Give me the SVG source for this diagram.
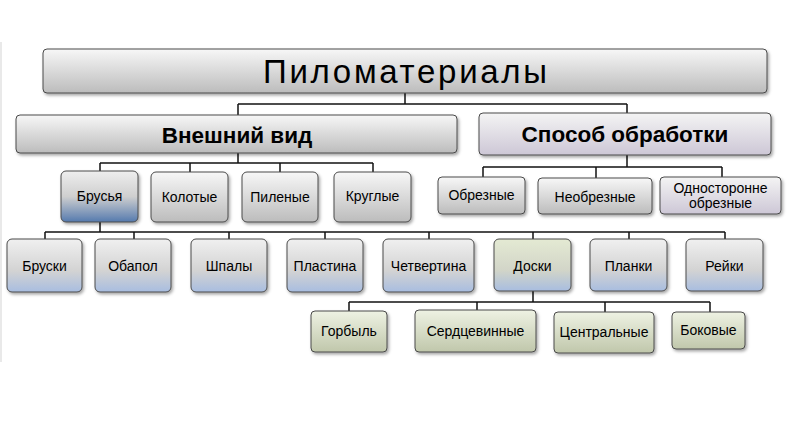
<svg xmlns="http://www.w3.org/2000/svg" width="788" height="424" viewBox="0 0 788 424">
<defs>
<linearGradient id="gGray" x1="0" y1="0" x2="0" y2="1"><stop offset="0" stop-color="#f7f7f7"/><stop offset="1" stop-color="#bcbcbc"/></linearGradient>
<linearGradient id="gLav" x1="0" y1="0" x2="0" y2="1"><stop offset="0" stop-color="#f4f4f4"/><stop offset="1" stop-color="#cdc7d6"/></linearGradient>
<linearGradient id="gBrus" x1="0" y1="0" x2="0" y2="1"><stop offset="0" stop-color="#eeeeee"/><stop offset="0.5" stop-color="#cfcfcf"/><stop offset="1" stop-color="#557aae"/></linearGradient>
<linearGradient id="gBlue" x1="0" y1="0" x2="0" y2="1"><stop offset="0" stop-color="#f0f0f0"/><stop offset="0.6" stop-color="#d3d3d3"/><stop offset="1" stop-color="#a8bde0"/></linearGradient>
<linearGradient id="gDoski" x1="0" y1="0" x2="0" y2="1"><stop offset="0" stop-color="#e4ead3"/><stop offset="0.6" stop-color="#d2d5c8"/><stop offset="1" stop-color="#a8bde0"/></linearGradient>
<linearGradient id="gGreen" x1="0" y1="0" x2="0" y2="1"><stop offset="0" stop-color="#eef2e3"/><stop offset="1" stop-color="#c0c7ab"/></linearGradient>
<filter id="sh" x="-10%" y="-10%" width="125%" height="140%"><feDropShadow dx="1.5" dy="2" stdDeviation="1.5" flood-color="#000" flood-opacity="0.35"/></filter>
<style>
rect.b{stroke:#4a4a4a;stroke-width:1;filter:url(#sh)}
text{font-family:"Liberation Sans",Arial,sans-serif;fill:#000;text-anchor:middle;dominant-baseline:central}
.t2{font-size:14px}
.t1{font-size:22.5px;font-weight:bold}
.c line{stroke:#111;stroke-width:1.5}
</style>
</defs>
<rect width="788" height="424" fill="#ffffff"/>
<line x1="1" y1="42" x2="1" y2="362" stroke="#e2e2e2" stroke-width="1.5"/>
<g class="c" id="connectors">
<line x1="405" y1="93" x2="405" y2="104"/>
<line x1="238" y1="104" x2="627" y2="104"/>
<line x1="238" y1="104" x2="238" y2="115"/>
<line x1="627" y1="104" x2="627" y2="113"/>
<line x1="238" y1="153" x2="238" y2="163"/>
<line x1="100" y1="163" x2="373" y2="163"/>
<line x1="100" y1="163" x2="100" y2="171"/>
<line x1="190" y1="163" x2="190" y2="172"/>
<line x1="280" y1="163" x2="280" y2="172"/>
<line x1="373" y1="163" x2="373" y2="172"/>
<line x1="627" y1="155" x2="627" y2="167"/>
<line x1="483" y1="167" x2="722" y2="167"/>
<line x1="483" y1="167" x2="483" y2="177"/>
<line x1="596" y1="167" x2="596" y2="178"/>
<line x1="722" y1="167" x2="722" y2="177"/>
<line x1="100" y1="222" x2="100" y2="232"/>
<line x1="45" y1="232" x2="725" y2="232"/>
<line x1="45" y1="232" x2="45" y2="239"/>
<line x1="134" y1="232" x2="134" y2="239"/>
<line x1="229" y1="232" x2="229" y2="239"/>
<line x1="325" y1="232" x2="325" y2="239"/>
<line x1="429" y1="232" x2="429" y2="239"/>
<line x1="533" y1="232" x2="533" y2="239"/>
<line x1="629" y1="232" x2="629" y2="239"/>
<line x1="725" y1="232" x2="725" y2="239"/>
<line x1="533" y1="291" x2="533" y2="302"/>
<line x1="349" y1="302" x2="710" y2="302"/>
<line x1="349" y1="302" x2="349" y2="311"/>
<line x1="477" y1="302" x2="477" y2="310"/>
<line x1="605" y1="302" x2="605" y2="312"/>
<line x1="710" y1="302" x2="710" y2="312"/>
</g>
<g id="title"><rect class="b" x="43" y="49" width="724" height="44" rx="4" fill="url(#gGray)"/><text x="405" y="71" font-size="33" textLength="284" lengthAdjust="spacing">Пиломатериалы</text></g>
<g id="vneshniy"><rect class="b" x="16" y="115" width="441" height="38" rx="4" fill="url(#gGray)"/><text class="t1" x="237" y="135">Внешний вид</text></g>
<g id="sposob"><rect class="b" x="479" y="113" width="292" height="42" rx="4" fill="url(#gLav)"/><text class="t1" x="625" y="134">Способ обработки</text></g>
<g id="brusya"><rect class="b" x="61" y="171" width="77" height="51" rx="5" fill="url(#gBrus)"/><text class="t2" x="99.5" y="196">Брусья</text></g>
<g id="kolotye"><rect class="b" x="151" y="172" width="77" height="50" rx="5" fill="url(#gGray)"/><text class="t2" x="189.5" y="197">Колотые</text></g>
<g id="pilenye"><rect class="b" x="242" y="172" width="76" height="50" rx="5" fill="url(#gGray)"/><text class="t2" x="280" y="197">Пиленые</text></g>
<g id="kruglye"><rect class="b" x="334" y="172" width="77" height="50" rx="5" fill="url(#gGray)"/><text class="t2" x="372.5" y="196">Круглые</text></g>
<g id="obreznye"><rect class="b" x="438" y="177" width="87" height="37" rx="4" fill="url(#gGray)"/><text class="t2" x="481.5" y="195">Обрезные</text></g>
<g id="neobreznye"><rect class="b" x="538" y="178" width="114" height="36" rx="4" fill="url(#gGray)"/><text class="t2" x="595" y="196.5">Необрезные</text></g>
<g id="odnostoronne"><rect class="b" x="660" y="177" width="121" height="37" rx="4" fill="url(#gLav)"/><text class="t2" x="720.5" y="188">Односторонне</text><text class="t2" x="720.5" y="203">обрезные</text></g>
<g id="bruski"><rect class="b" x="7" y="239" width="75" height="53" rx="5" fill="url(#gBlue)"/><text class="t2" x="44.5" y="266">Бруски</text></g>
<g id="obapol"><rect class="b" x="95" y="239" width="76" height="53" rx="5" fill="url(#gBlue)"/><text class="t2" x="133" y="266">Обапол</text></g>
<g id="shpaly"><rect class="b" x="191" y="239" width="76" height="53" rx="5" fill="url(#gBlue)"/><text class="t2" x="229" y="266">Шпалы</text></g>
<g id="plastina"><rect class="b" x="287" y="239" width="76" height="53" rx="5" fill="url(#gBlue)"/><text class="t2" x="325" y="266">Пластина</text></g>
<g id="chetvertina"><rect class="b" x="383" y="239" width="91" height="53" rx="5" fill="url(#gBlue)"/><text class="t2" x="428.5" y="266">Четвертина</text></g>
<g id="doski"><rect class="b" x="494" y="239" width="77" height="52" rx="5" fill="url(#gDoski)"/><text class="t2" x="532.5" y="266">Доски</text></g>
<g id="planki"><rect class="b" x="590" y="239" width="77" height="52" rx="5" fill="url(#gBlue)"/><text class="t2" x="628.5" y="266">Планки</text></g>
<g id="reyki"><rect class="b" x="686" y="239" width="77" height="52" rx="5" fill="url(#gBlue)"/><text class="t2" x="724.5" y="266">Рейки</text></g>
<g id="gorbyl"><rect class="b" x="311" y="311" width="76" height="41" rx="4" fill="url(#gGreen)"/><text class="t2" x="349" y="331">Горбыль</text></g>
<g id="serdtsevinnye"><rect class="b" x="415" y="310" width="121" height="42" rx="4" fill="url(#gGreen)"/><text class="t2" x="475.5" y="331">Сердцевинные</text></g>
<g id="tsentralnye"><rect class="b" x="554" y="312" width="100" height="41" rx="4" fill="url(#gGreen)"/><text class="t2" x="604" y="332">Центральные</text></g>
<g id="bokovye"><rect class="b" x="672" y="312" width="73" height="37" rx="4" fill="url(#gGreen)"/><text class="t2" x="708.5" y="330">Боковые</text></g>
</svg>
